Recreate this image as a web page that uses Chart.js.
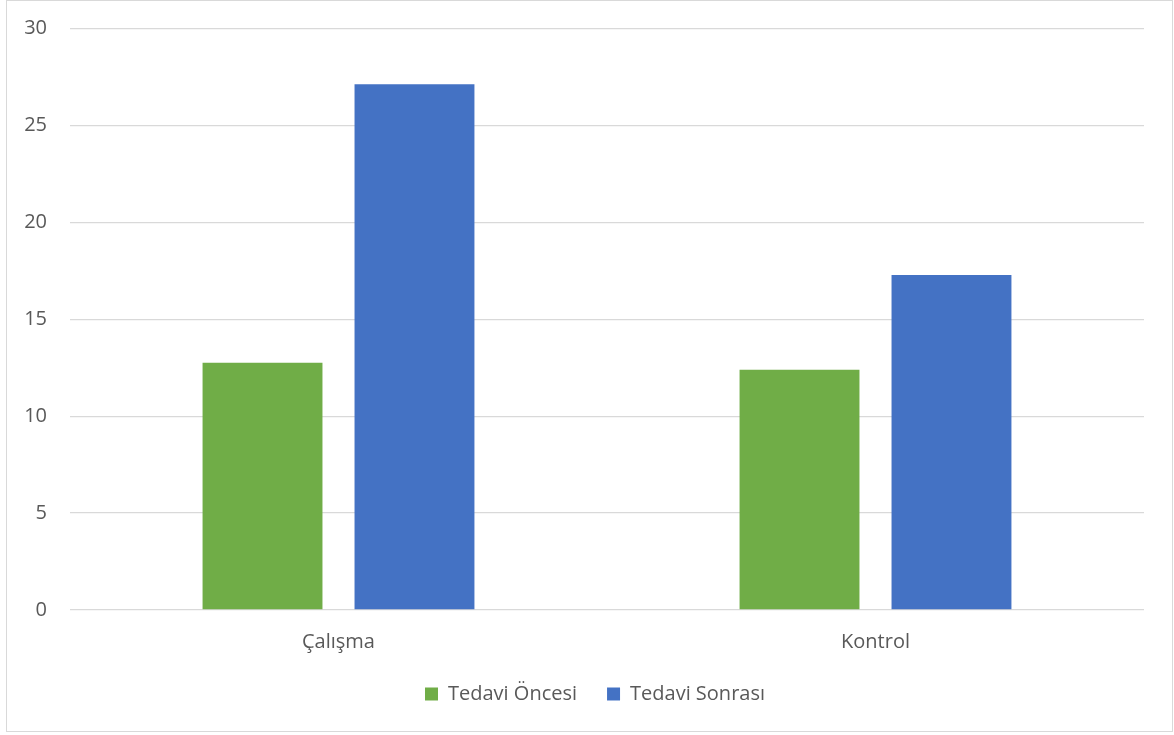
<!DOCTYPE html>
<html><head><meta charset="utf-8">
<script src="https://cdn.jsdelivr.net/npm/chart.js@4"></script>
<style>
html,body{margin:0;padding:0;background:#fff;}
#wrap{position:absolute;left:6px;top:0px;width:1165px;height:730px;border:1px solid #d9d9d9;background:#fff;}
canvas{display:block;}
</style></head><body>
<div id="wrap"><canvas id="c" width="1165" height="730"></canvas></div>
<script>
const categories = ["Çalışma", "Kontrol"];
const seriesNames = ["Tedavi Öncesi", "Tedavi Sonrası"];
const oncesi = [12.76, 12.40];
const sonrasi = [27.13, 17.28];
const yMin = 0, yMax = 30, yStep = 5;

const font = "'Open Sans', 'Noto Sans', sans-serif";
const legendShift = {
  id: 'legendShift',
  afterLayout(chart) {
    if (chart.legend) { chart.legend.left -= 12; chart.legend.right -= 12; }
  }
};
new Chart(document.getElementById('c'), {
  type: 'bar',
  data: {
    labels: categories,
    datasets: [
      {label: seriesNames[0], data: oncesi, backgroundColor: '#70AD47', barPercentage: 0.789, categoryPercentage: 0.566},
      {label: seriesNames[1], data: sonrasi, backgroundColor: '#4472C4', barPercentage: 0.789, categoryPercentage: 0.566}
    ]
  },
  plugins: [legendShift],
  options: {
    responsive: false,
    animation: false,
    layout: {padding: {left: 0, right: 28, top: 27.5, bottom: 17}},
    plugins: {
      tooltip: {enabled: false},
      legend: {
        position: 'bottom',
        fullSize: false,
        labels: {boxWidth: 13, boxHeight: 13, padding: 30, color: '#595959', font: {family: font, size: 20}}
      }
    },
    scales: {
      x: {
        afterFit: s => { s.height = 44; },
        grid: {display: false, drawTicks: false},
        border: {display: false},
        ticks: {color: '#595959', padding: 20, font: {family: font, size: 20}}
      },
      y: {
        min: yMin, max: yMax,
        afterFit: s => { s.width = 63; s.paddingTop = 0; s.paddingBottom = 0; },
        ticks: {stepSize: yStep, color: '#595959', padding: 23, font: {family: font, size: 20}},
        grid: {color: '#d9d9d9', lineWidth: 1.3, drawTicks: false},
        border: {display: false}
      }
    }
  }
});
</script>
</body></html>
